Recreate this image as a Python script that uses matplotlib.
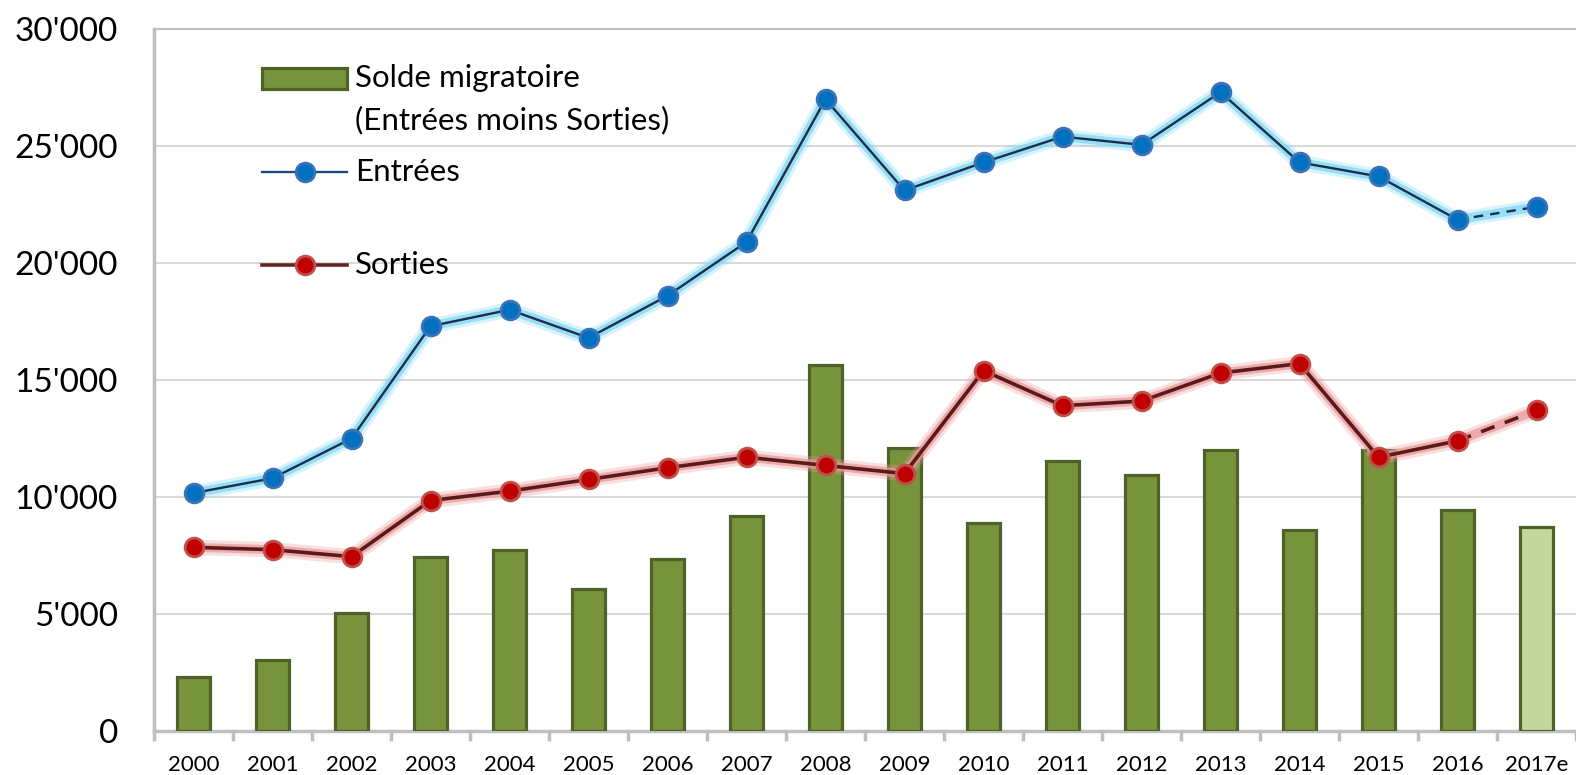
import matplotlib
matplotlib.use("Agg")
import matplotlib.pyplot as plt
from matplotlib.patches import Rectangle
from matplotlib.lines import Line2D
import numpy as np

plt.rcParams['font.family'] = ['Lato', 'DejaVu Sans']

years = ["2000", "2001", "2002", "2003", "2004", "2005", "2006", "2007", "2008",
         "2009", "2010", "2011", "2012", "2013", "2014", "2015", "2016", "2017e"]
entrees = [10170, 10800, 12500, 17300, 18000, 16800, 18600, 20900, 27000,
           23100, 24300, 25400, 25050, 27300, 24300, 23700, 21850, 22400]
sorties = [7850, 7750, 7450, 9850, 10250, 10750, 11250, 11700, 11350,
           11000, 15400, 13900, 14100, 15300, 15700, 11700, 12400, 13700]
solde = [2300, 3050, 5050, 7450, 7750, 6050, 7350, 9200, 15650,
         12100, 8900, 11550, 10950, 12000, 8600, 12000, 9450, 8700]
yticks = [0, 5000, 10000, 15000, 20000, 25000, 30000]
ytick_labels = ["0", "5'000", "10'000", "15'000", "20'000", "25'000", "30'000"]

bar_green = "#77933c"
bar_edge = "#4f6228"
bar_light = "#c3d69b"
blue_face = "#0070c0"
blue_edge = "#3d72b8"
blue_line = "#1f2d48"
blue_glow = "#7fd8f4"
red_face = "#c00000"
red_edge = "#c0504d"
red_line = "#5a1a1a"
red_glow = "#ec9a9a"
grid_grey = "#d9d9d9"
spine_grey = "#bfbfbf"

fig = plt.figure(figsize=(15.76, 7.75), dpi=100)
ax = fig.add_axes([154/1576, 1-731/775, 1422/1576, 702/775])

x = np.arange(len(years))
colors_bar = [bar_green]*(len(years)-1) + [bar_light]
ax.bar(x, solde, width=0.43, color=colors_bar, edgecolor=bar_edge, linewidth=2.3, zorder=3)

def draw_series(vals, line_c, glow_c, face_c, edge_c, lw):
    # soft glow under the line, then solid part and dashed estimate
    ax.plot(x, vals, color=glow_c, lw=11, alpha=0.3, zorder=4, solid_capstyle="round")
    ax.plot(x, vals, color=glow_c, lw=6.5, alpha=0.75, zorder=4, solid_capstyle="round")
    ax.plot(x[:-1], vals[:-1], color=line_c, lw=lw, zorder=4)
    ax.plot(x[-2:], vals[-2:], color=line_c, lw=lw, ls=(0, (4, 3)), zorder=4)
    ax.plot(x, vals, ls="none", marker="o", ms=13.5, mfc=face_c, mec=edge_c, mew=2, zorder=5)

draw_series(entrees, blue_line, blue_glow, blue_face, blue_edge, 1.7)
draw_series(sorties, red_line, red_glow, red_face, red_edge, 2.6)

ax.set_xlim(-0.5, len(years)-0.5)
ax.set_ylim(0, 30000)
ax.set_yticks(yticks)
ax.set_yticklabels(ytick_labels, fontsize=24)
ax.set_xticks(x)
ax.set_xticklabels(years, fontsize=16)
ax.set_xticks(np.arange(len(years)+1) - 0.5, minor=True)
ax.tick_params(axis="y", length=0, pad=26)
ax.tick_params(axis="x", which="major", length=0, pad=17)
ax.tick_params(axis="x", which="minor", length=7, width=2.5, color=spine_grey)
ax.grid(axis="y", color=grid_grey, lw=1.5, zorder=0)
ax.set_axisbelow(True)
for s in ["left", "bottom", "top"]:
    ax.spines[s].set_color(spine_grey)
    ax.spines[s].set_linewidth(2.5)
ax.spines["top"].set_linewidth(1.5)
ax.spines["right"].set_visible(False)

# legend drawn by hand, in axes fraction
tr = ax.transAxes
hx0, hx1, tx = 0.076, 0.1357, 0.1413
fs = 22.5
ax.add_patch(Rectangle((hx0, 0.9145), hx1-hx0, 0.0295, transform=tr, facecolor=bar_green,
                       edgecolor=bar_edge, lw=2.3, zorder=6, clip_on=False))
ax.text(tx, 0.930, "Solde migratoire", transform=tr, fontsize=fs, va="center", ha="left")
ax.text(tx, 0.870, "(Entrées moins Sorties)", transform=tr, fontsize=fs, va="center", ha="left")
ax.add_line(Line2D([hx0, hx1], [0.796, 0.796], transform=tr, color="#1f497d", lw=1.7, zorder=6))
ax.add_line(Line2D([(hx0+hx1)/2], [0.796], transform=tr, marker="o", ms=13.5, mfc=blue_face,
                   mec=blue_edge, mew=2, zorder=7))
ax.text(tx, 0.796, "Entrées", transform=tr, fontsize=fs, va="center", ha="left")
ax.add_line(Line2D([hx0, hx1], [0.664, 0.664], transform=tr, color="#632523", lw=2.6, zorder=6))
ax.add_line(Line2D([(hx0+hx1)/2], [0.664], transform=tr, marker="o", ms=13.5, mfc=red_face,
                   mec=red_edge, mew=2, zorder=7))
ax.text(tx, 0.664, "Sorties", transform=tr, fontsize=fs, va="center", ha="left")

fig.savefig("out.png", dpi=100)
